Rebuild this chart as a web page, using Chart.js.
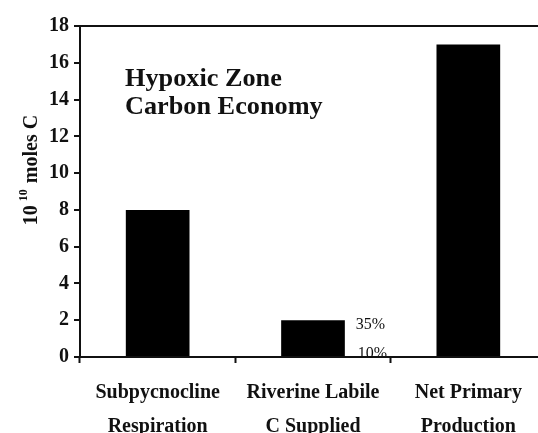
<!DOCTYPE html>
<html>
<head>
<meta charset="utf-8">
<script src="https://cdn.jsdelivr.net/npm/chart.js@4"></script>
<style>
  html, body { margin: 0; padding: 0; background: #fff; overflow: hidden; }
  .CarbonChart { position: relative; width: 546px; height: 433px; }
</style>
</head>
<body>
<div class="CarbonChart"><canvas id="chart"></canvas></div>
<script>
const categories = [
  ['Subpycnocline', 'Respiration'],
  ['Riverine Labile', 'C Supplied'],
  ['Net Primary', 'Production'],
];
const carbonValues = [8, 2, 17];
const riverineShares = ['35%', '10%'];
const yMax = 18;
const yStep = 2;
const insetTitle = ['Hypoxic Zone', 'Carbon Economy'];

const serif = '"Liberation Serif", "DejaVu Serif", serif';
const ink = '#111';

// y title with the superscript exponent, and the text drawn inside the plot
const annotations = {
  id: 'annotations',
  afterDraw(chart) {
    const {ctx, scales} = chart;
    ctx.save();
    ctx.fillStyle = ink;

    // axis title, rotated
    ctx.save();
    ctx.translate(37, 170);
    ctx.rotate(-Math.PI / 2);
    ctx.textBaseline = 'alphabetic';
    ctx.font = `bold 20px ${serif}`;
    const base = '10';
    const rest = 'moles C';
    const wBase = ctx.measureText(base).width;
    const wRest = ctx.measureText(rest).width;
    ctx.font = `bold 12px ${serif}`;
    const wSup = ctx.measureText('10').width;
    const total = wBase + 4 + wSup + 6 + wRest;
    let x = -total / 2;
    ctx.font = `bold 20px ${serif}`;
    ctx.fillText(base, x, 0);
    x += wBase + 4;
    ctx.font = `bold 12px ${serif}`;
    ctx.fillText('10', x, -10);
    x += wSup + 6;
    ctx.font = `bold 20px ${serif}`;
    ctx.fillText(rest, x, 0);
    ctx.restore();

    // inset title, a little wide like the scan
    ctx.save();
    ctx.translate(125, 0);
    ctx.scale(1.05, 1);
    ctx.font = `bold 25px ${serif}`;
    ctx.textBaseline = 'alphabetic';
    insetTitle.forEach((line, i) => ctx.fillText(line, 0, 86 + i * 28));
    ctx.restore();

    // share labels beside the riverine bar
    const bar = chart.getDatasetMeta(0).data[1];
    const lx = bar.x + bar.width / 2 + 11;
    ctx.font = `16px ${serif}`;
    ctx.textBaseline = 'middle';
    ctx.fillText(riverineShares[0], lx, bar.y + 5);
    ctx.textBaseline = 'alphabetic';
    ctx.fillText(riverineShares[1], lx + 2, scales.y.getPixelForValue(0) + 1);
    ctx.restore();
  },
};

new Chart(document.getElementById('chart'), {
  type: 'bar',
  data: {
    labels: categories,
    datasets: [
      {
        data: carbonValues,
        backgroundColor: '#000',
        borderWidth: 0,
        barPercentage: 0.41,
        categoryPercentage: 1,
      },
    ],
  },
  options: {
    responsive: true,
    maintainAspectRatio: false,
    animation: false,
    layout: {padding: {top: 26, right: 0, left: 0, bottom: 0}},
    plugins: {
      legend: {display: false},
      tooltip: {enabled: false},
    },
    scales: {
      x: {
        border: {color: ink, width: 2},
        grid: {
          offset: true,
          color: 'transparent',
          tickColor: ink,
          tickLength: 6,
          tickWidth: 2,
        },
        ticks: {
          color: ink,
          padding: 13,
          font: {family: serif, size: 20, weight: 'bold', lineHeight: 1.7},
          maxRotation: 0,
          autoSkip: false,
        },
        afterFit(scale) {
          scale.height = 76;
        },
      },
      y: {
        min: 0,
        max: yMax,
        border: {color: ink, width: 2},
        grid: {
          color: (c) => (c.tick && c.tick.value === yMax ? ink : 'transparent'),
          lineWidth: 2,
          tickColor: ink,
          tickLength: 6,
          tickWidth: 2,
        },
        ticks: {
          stepSize: yStep,
          color: ink,
          padding: 5,
          font: {family: serif, size: 20, weight: 'bold'},
        },
        afterFit(scale) {
          scale.width = 80;
        },
      },
    },
  },
  plugins: [annotations],
});
</script>
</body>
</html>
